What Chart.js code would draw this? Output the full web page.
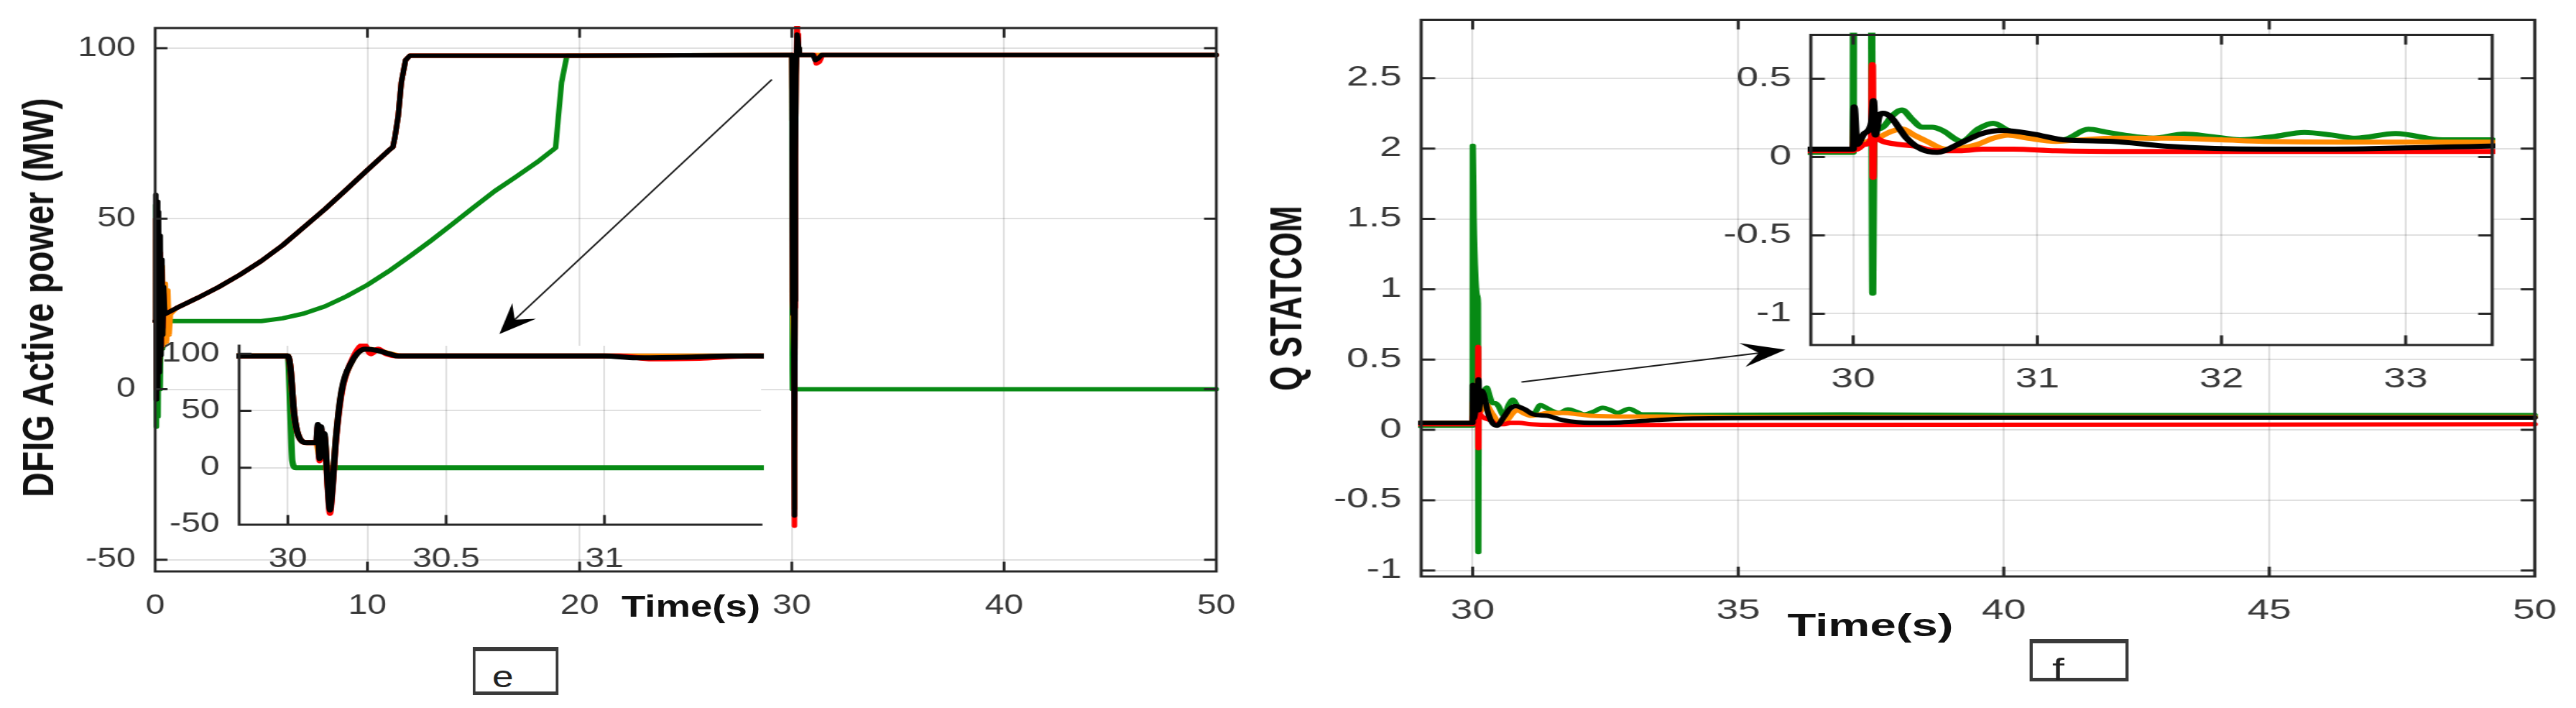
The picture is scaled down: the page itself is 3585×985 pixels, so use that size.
<!DOCTYPE html>
<html>
<head>
<meta charset="utf-8">
<script src="https://cdn.jsdelivr.net/npm/chart.js@4.4.0/dist/chart.umd.min.js"></script>
<style>
  html, body { margin: 0; padding: 0; background: #fff; }
  body { width: 3585px; height: 985px; position: relative; overflow: hidden; font-family: 'Liberation Sans', Arial, sans-serif; }
  .panel { position: absolute; top: 0; height: 985px; transform-origin: 0 0; }
  .panel canvas { position: absolute; }
  .lbl { position: absolute; white-space: nowrap; color: #111; font-weight: bold; line-height: 1; }
  .tag { position: absolute; box-sizing: border-box; border: 3px solid #3a3a3a; border-top-width: 6px; border-bottom-width: 5px; background: #fff; }
  .tag span { position: absolute; font-size: 42px; line-height: 1; color: #222; }
</style>
</head>
<body>
<div id="left" class="panel"></div>
<div id="right" class="panel"></div>
<script>
// ---- data: DFIG active power (MW) vs time (s), one array of [t, value] per trace
const pBlack = [[0, 20], [0.03, 57], [0.06, -3], [0.09, 55], [0.12, 0], [0.16, 52], [0.2, 5], [0.24, 45], [0.28, 10], [0.32, 38], [0.36, 16], [0.4, 30], [0.45, 22],
  [1, 23.8], [2, 26.8], [3, 30], [4, 33.6], [5, 37.6], [6, 42.2], [7, 47.5], [8, 52.8], [9, 58.5], [10, 64.3], [11, 70], [11.2, 71], [11.3, 74], [11.45, 80], [11.6, 90], [11.8, 96.5], [12, 97.8],
  [20, 97.8], [30, 98], [30.008, 88], [30.02, 47], [30.037, 26], [30.06, 22], [30.09, 22], [30.095, 38], [30.1, 8], [30.105, 36], [30.11, 10], [30.115, 30], [30.12, 15], [30.127, -20], [30.133, -37], [30.14, -20],
  [30.152, 26], [30.17, 68], [30.2, 92], [30.245, 104], [30.28, 103], [30.32, 100], [30.35, 98], [31, 98], [31.1, 96.5], [31.25, 97], [31.4, 98], [50, 98]];
const pRed = [[0, 20], [0.03, 50], [0.06, 0], [0.09, 48], [0.12, 5], [0.16, 45], [0.2, 8], [0.24, 40], [0.28, 12], [0.32, 35], [0.36, 18], [0.4, 28], [0.45, 22],
  [1, 23.8], [2, 26.8], [3, 30], [4, 33.6], [5, 37.6], [6, 42.2], [7, 47.5], [8, 52.8], [9, 58.5], [10, 64.3], [11, 70], [11.2, 71], [11.3, 74], [11.45, 80], [11.6, 90], [11.8, 96.5], [12, 97.8],
  [20, 97.8], [30, 98], [30.008, 88], [30.02, 47], [30.037, 26], [30.06, 22], [30.09, 22], [30.095, 36], [30.1, 6], [30.105, 34], [30.11, 8], [30.115, 28], [30.12, 13], [30.127, -22], [30.133, -40], [30.14, -22],
  [30.152, 24], [30.17, 66], [30.2, 93], [30.24, 108], [30.262, 100], [30.285, 104], [30.31, 100], [30.35, 98], [31.05, 98], [31.15, 95.5], [31.3, 96], [31.45, 98], [50, 98]];
const pOrange = [[0, 20], [0.04, 44], [0.1, 12], [0.18, 40], [0.26, 15], [0.34, 36], [0.42, 13], [0.48, 31], [0.54, 14], [0.6, 29], [0.66, 16], [0.72, 22],
  [1, 23.8], [2, 26.8], [3, 30], [4, 33.6], [5, 37.6], [6, 42.2], [7, 47.5], [8, 52.8], [9, 58.5], [10, 64.3], [11, 70], [11.2, 71], [11.3, 74], [11.45, 80], [11.6, 90], [11.8, 96.5], [12, 97.8],
  [20, 97.8], [30, 98], [30.008, 88], [30.02, 47], [30.037, 26], [30.06, 22], [30.09, 22], [30.1, 10], [30.115, 28], [30.127, -18], [30.133, -35], [30.14, -18],
  [30.152, 26], [30.17, 67], [30.2, 92], [30.245, 104], [30.29, 102.5], [30.33, 99.5], [30.36, 98], [50, 98]];
const pGreen = [[0, 20], [0.03, 54], [0.06, -11], [0.1, 50], [0.14, -8], [0.19, 42], [0.24, 0], [0.3, 32], [0.36, 12], [0.42, 24], [0.5, 20], [3, 20], [5, 20],
  [6, 20.8], [7, 22.2], [8, 24.3], [9, 27.2], [10, 30.6], [11, 34.6], [12, 39], [13, 43.6], [14, 48.4], [15, 53.3], [16, 58.1], [17, 62.3], [18, 66.6], [18.87, 70.8],
  [19, 80], [19.15, 90], [19.4, 97.8], [30, 98], [30.008, 47], [30.014, 6], [30.025, 0], [50, 0]];

// ---- data: Q STATCOM vs time (s)
const qBlack = [[29, 0.05], [30, 0.05], [30.005, 0.32], [30.02, 0.08], [30.06, 0.15], [30.1, 0.22], [30.11, 0.36], [30.12, 0.14], [30.14, 0.26], [30.16, 0.28], [30.2, 0.26],
  [30.29, 0.12], [30.37, 0.05], [30.456, 0.03], [30.59, 0.093], [30.7, 0.15], [30.81, 0.169], [30.98, 0.146], [31.14, 0.11], [31.41, 0.1], [31.69, 0.07], [32.23, 0.05],
  [32.78, 0.053], [33.46, 0.07], [34, 0.08], [36, 0.085], [40, 0.087], [50, 0.087]];
const qRed = [[29, 0.04], [30, 0.04], [30.005, 0.1], [30.02, 0.05], [30.06, 0.08], [30.1, 0.12], [30.104, 0.59], [30.108, -0.13], [30.112, 0.15], [30.13, 0.12], [30.16, 0.1],
  [30.25, 0.08], [30.33, 0.07], [30.45, 0.04], [30.59, 0.04], [30.7, 0.05], [30.87, 0.05], [31.1, 0.04], [31.5, 0.035], [33, 0.035], [50, 0.04]];
const qOrange = [[29, 0.05], [30, 0.05], [30.005, 0.2], [30.02, 0.08], [30.08, 0.1], [30.13, 0.12], [30.2, 0.16], [30.265, 0.18], [30.33, 0.14], [30.4, 0.1], [30.5, 0.05],
  [30.6, 0.06], [30.675, 0.08], [30.76, 0.12], [30.84, 0.14], [30.95, 0.12], [31.1, 0.1], [31.25, 0.11], [31.41, 0.12], [31.7, 0.12], [32, 0.11], [32.23, 0.1],
  [33, 0.095], [33.47, 0.095], [35, 0.092], [50, 0.092]];
const qGreen = [[29, 0.03], [30, 0.03], [30.003, 2.02], [30.02, 1.5], [30.05, 1.1], [30.09, 0.95], [30.1, 0.9], [30.106, -0.87], [30.112, 0.1], [30.14, 0.18], [30.17, 0.2],
  [30.21, 0.26], [30.265, 0.3], [30.32, 0.24], [30.375, 0.19], [30.43, 0.19], [30.484, 0.17], [30.59, 0.1], [30.68, 0.18], [30.76, 0.215], [30.84, 0.17], [30.92, 0.14],
  [31, 0.13], [31.14, 0.11], [31.277, 0.177], [31.37, 0.16], [31.47, 0.14], [31.63, 0.12], [31.797, 0.146], [31.95, 0.13], [32.1, 0.11], [32.28, 0.13], [32.45, 0.157],
  [32.6, 0.14], [32.727, 0.12], [32.945, 0.15], [33.2, 0.11], [33.47, 0.11], [34, 0.105], [37, 0.11], [40, 0.105], [50, 0.105]];

// ---- ticks and axis limits
const pTicksX = [0, 10, 20, 30, 40, 50];
const pTicksY = [-50, 0, 50, 100];
const pZoomTicksX = [30, 30.5, 31];
const pZoomTicksY = [-50, 0, 50, 100];
const qTicksX = [30, 35, 40, 45, 50];
const qTicksY = [-1, -0.5, 0, 0.5, 1, 1.5, 2, 2.5];
const qZoomTicksX = [30, 31, 32, 33];
const qZoomTicksY = [-1, -0.5, 0, 0.5];

const pLimX = [0, 50], pLimY = [-53.4, 105.9];
const pZoomLimX = [29.846, 31.495], pZoomLimY = [-50, 107];
const qLimX = [29.03, 50], qLimY = [-1.042, 2.916];
const qZoomLimX = [29.77, 33.47], qZoomLimY = [-1.2, 0.78];

// arrows, in data units of the main axes
const pArrow = { from: [29.06, 90.8], to: [16.22, 16.2] };
const qArrow = { from: [30.92, 0.34], to: [35.89, 0.57] };

const FONT = "'Liberation Sans', Arial, sans-serif";
const INK = '#383838';
const GRID = 'rgba(0,0,0,0.12)';
const C = { black: '#000000', red: '#ff0000', orange: '#ff8a00', green: '#078a14' };
const YW = 110, XH = 90, PAD = 40;

const pts = a => a.map(([x, y]) => ({ x, y }));

function makePanel(id, x0, k) {
  const el = document.getElementById(id);
  el.style.left = x0 + 'px';
  el.style.width = ((3585 - x0) / k) + 'px';
  el.style.transform = 'scaleX(' + k + ')';
  return { el, x0, k, ix: x => (x - x0) / k };
}

const framePlugin = {
  id: 'frame',
  beforeDraw(chart, args, o) {
    if (!o.fill) return;
    const a = chart.chartArea, ctx = chart.ctx;
    ctx.save();
    ctx.fillStyle = '#fff';
    ctx.fillRect(a.left, a.top, a.width, a.height);
    ctx.restore();
  },
  afterDatasetsDraw(chart, args, o) {
    const { ctx, chartArea: a, scales: { x, y } } = chart;
    const tl = 12;
    ctx.save();
    ctx.strokeStyle = '#262626';
    ctx.lineWidth = 3;
    ctx.lineCap = 'square';
    ctx.beginPath();
    if (o.full) {
      ctx.rect(a.left, a.top, a.width, a.height);
    } else {
      ctx.moveTo(a.left, a.top);
      ctx.lineTo(a.left, a.bottom);
      ctx.lineTo(a.right, a.bottom);
    }
    x.ticks.forEach(t => {
      const px = x.getPixelForValue(t.value);
      ctx.moveTo(px, a.bottom); ctx.lineTo(px, a.bottom - tl);
      if (o.full) { ctx.moveTo(px, a.top); ctx.lineTo(px, a.top + tl); }
    });
    y.ticks.forEach(t => {
      const py = y.getPixelForValue(t.value);
      ctx.moveTo(a.left, py); ctx.lineTo(a.left + tl, py);
      if (o.full) { ctx.moveTo(a.right, py); ctx.lineTo(a.right - tl, py); }
    });
    ctx.stroke();
    ctx.restore();
  }
};

const arrowPlugin = {
  id: 'arrow',
  afterDraw(chart, args, o) {
    if (!o.from) return;
    const { ctx, scales: { x, y } } = chart;
    const x1 = x.getPixelForValue(o.from[0]), y1 = y.getPixelForValue(o.from[1]);
    const x2 = x.getPixelForValue(o.to[0]), y2 = y.getPixelForValue(o.to[1]);
    const ang = Math.atan2(y2 - y1, x2 - x1);
    const L = 42, W = 17;
    ctx.save();
    ctx.strokeStyle = '#1a1a1a';
    ctx.lineWidth = 2;
    ctx.beginPath();
    ctx.moveTo(x1, y1);
    ctx.lineTo(x2 - Math.cos(ang) * L * 0.6, y2 - Math.sin(ang) * L * 0.6);
    ctx.stroke();
    ctx.translate(x2, y2);
    ctx.rotate(ang);
    ctx.fillStyle = '#000';
    ctx.beginPath();
    ctx.moveTo(0, 0);
    ctx.lineTo(-L, -W);
    ctx.lineTo(-L * 0.62, 0);
    ctx.lineTo(-L, W);
    ctx.closePath();
    ctx.fill();
    ctx.restore();
  }
};

function plot(panel, frame, limX, limY, ticksX, ticksY, series, extra) {
  const l = panel.ix(frame.l), r = panel.ix(frame.r);
  const w = Math.round(r - l + YW + 2 * PAD), h = Math.round(frame.b - frame.t + XH + 2 * PAD);
  const canvas = document.createElement('canvas');
  canvas.width = w; canvas.height = h;
  canvas.style.left = (l - YW - PAD) + 'px';
  canvas.style.top = (frame.t - PAD) + 'px';
  canvas.style.width = w + 'px';
  canvas.style.height = h + 'px';
  panel.el.appendChild(canvas);

  const axis = (lim, ticks, isX) => ({
    type: 'linear', min: lim[0], max: lim[1],
    afterBuildTicks: s => { s.ticks = ticks.map(value => ({ value })); },
    afterFit: s => { if (isX) s.height = XH; else s.width = YW; },
    grid: { color: GRID, lineWidth: 2, drawTicks: false },
    border: { display: false },
    ticks: {
      color: INK, font: { family: FONT, size: 38 },
      padding: isX ? 26 : 27 / panel.k,
      maxRotation: 0, autoSkip: false,
      callback: v => String(v)
    }
  });

  return new Chart(canvas, {
    type: 'line',
    data: {
      datasets: series.map(s => ({
        data: pts(s.data), borderColor: s.color, borderWidth: extra.lw,
        pointRadius: 0, tension: 0,
        cubicInterpolationMode: extra.smooth ? 'monotone' : 'default',
        borderJoinStyle: 'round', borderCapStyle: 'round', clip: 3
      }))
    },
    options: {
      responsive: false, animation: false, devicePixelRatio: 1,
      layout: { padding: PAD },
      plugins: {
        legend: { display: false }, tooltip: { enabled: false },
        frame: { full: extra.full, fill: extra.fill },
        arrow: extra.arrow || {}
      },
      scales: { x: axis(limX, ticksX, true), y: axis(limY, ticksY, false) }
    },
    plugins: [framePlugin, arrowPlugin]
  });
}

function addText(panel, text, cx, cy, size, rotate) {
  const d = document.createElement('div');
  d.className = 'lbl';
  d.textContent = text;
  d.style.fontSize = size + 'px';
  d.style.left = panel.ix(cx) + 'px';
  d.style.top = cy + 'px';
  d.style.transform = 'translate(-50%, -50%)' + (rotate ? ' rotate(-90deg)' : '');
  panel.el.appendChild(d);
}

function addTag(panel, letter, l, t, r, b, lx, base) {
  const d = document.createElement('div');
  d.className = 'tag';
  d.style.left = panel.ix(l) + 'px';
  d.style.top = t + 'px';
  d.style.width = (panel.ix(r) - panel.ix(l)) + 'px';
  d.style.height = (b - t) + 'px';
  const s = document.createElement('span');
  s.textContent = letter;
  s.style.left = (panel.ix(lx) - panel.ix(l) - 3) + 'px';
  s.style.top = (base - t - 6 - 0.85 * 42) + 'px';
  d.appendChild(s);
  panel.el.appendChild(d);
}

// drawing order: first dataset on top
const pSeries = [
  { data: pBlack, color: C.black }, { data: pRed, color: C.red },
  { data: pOrange, color: C.orange }, { data: pGreen, color: C.green }
];
const qSeries = [
  { data: qBlack, color: C.black }, { data: qRed, color: C.red },
  { data: qOrange, color: C.orange }, { data: qGreen, color: C.green }
];

const left = makePanel('left', 0, 1.27);
plot(left, { l: 216.5, r: 1703, t: 34.5, b: 794 }, pLimX, pLimY, pTicksX, pTicksY, pSeries,
  { lw: 6, full: true, fill: false, arrow: pArrow, smooth: false });
plot(left, { l: 333, r: 1060, t: 476.7, b: 730 }, pZoomLimX, pZoomLimY, pZoomTicksX, pZoomTicksY, pSeries,
  { lw: 7, full: false, fill: true, smooth: true });
addText(left, 'DFIG Active power (MW)', 53.5, 414, 48, true);
addText(left, 'Time(s)', 961.5, 843, 43, false);
addTag(left, 'e', 658, 900, 777, 967, 685, 957);

const right = makePanel('right', 1740, 1.45);
plot(right, { l: 1977.5, r: 3537.8, t: 26.4, b: 802.8 }, qLimX, qLimY, qTicksX, qTicksY, qSeries,
  { lw: 6, full: true, fill: false, arrow: qArrow, smooth: true });
plot(right, { l: 2520, r: 3468.6, t: 47.3, b: 480 }, qZoomLimX, qZoomLimY, qZoomTicksX, qZoomTicksY, qSeries,
  { lw: 7, full: true, fill: true, smooth: true });
addText(right, 'Q STATCOM', 1790, 414.6, 44, true);
addText(right, 'Time(s)', 2603, 869, 45, false);
addTag(right, 'f', 2824, 889, 2962, 948, 2856, 947);
</script>
</body>
</html>
